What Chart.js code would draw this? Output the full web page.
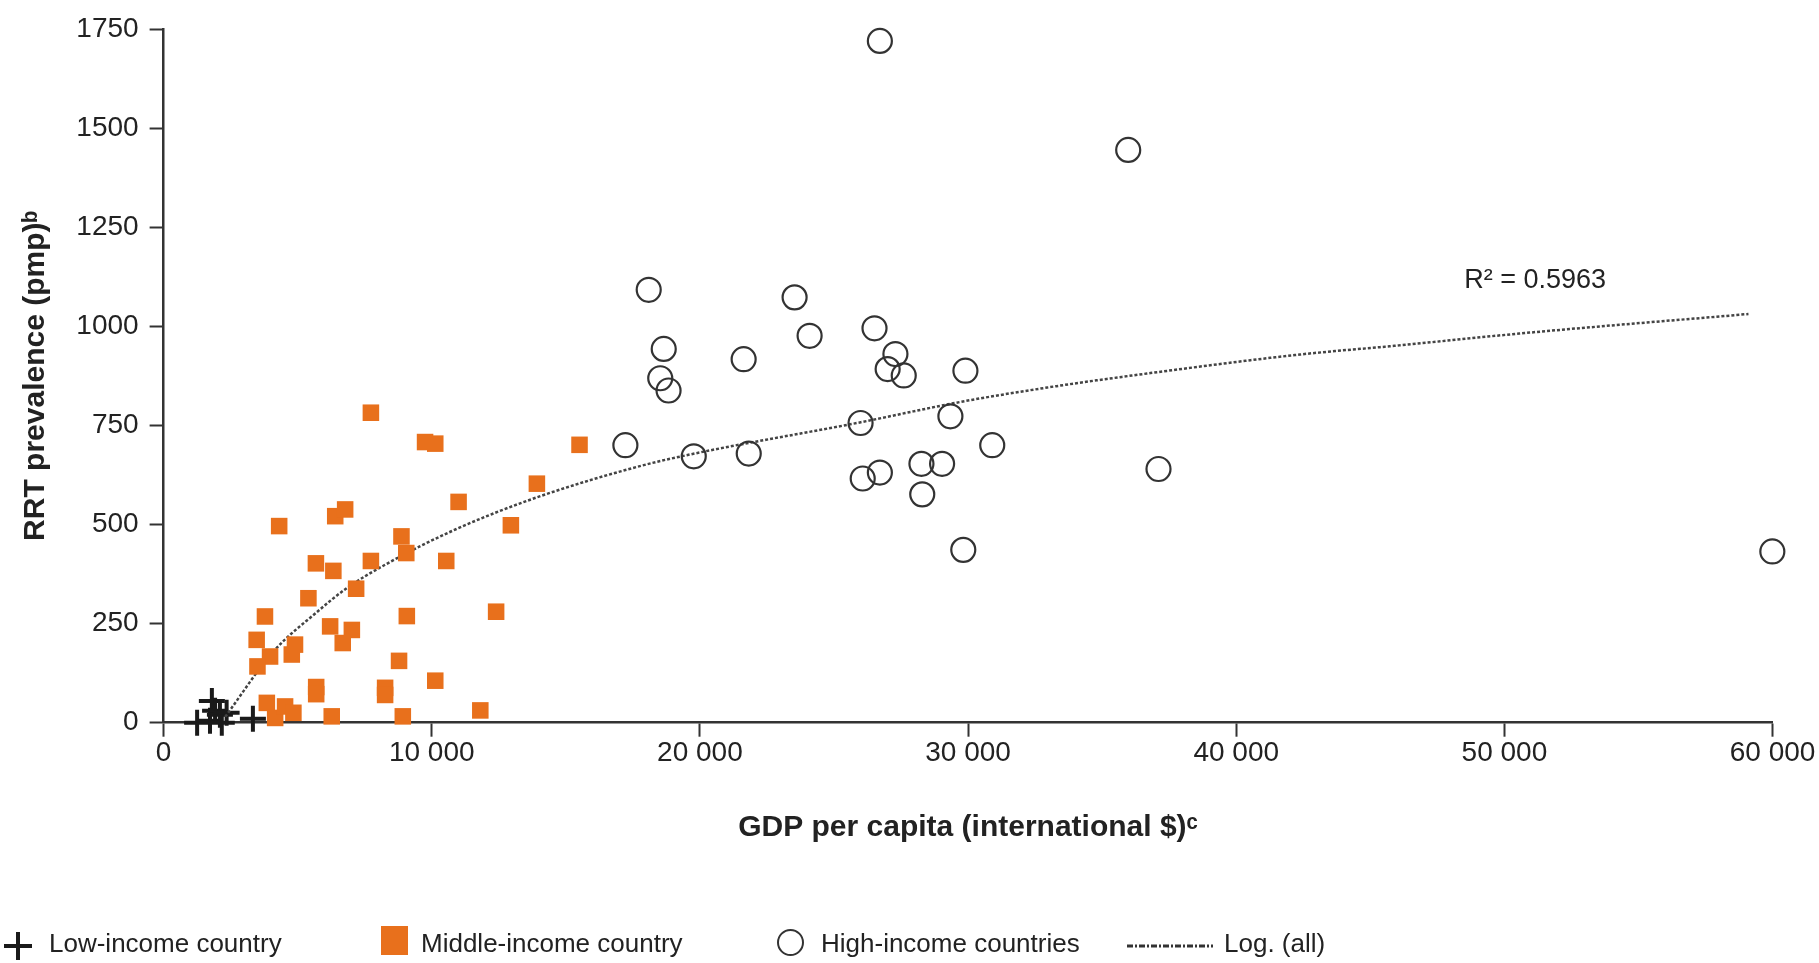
<!DOCTYPE html>
<html>
<head>
<meta charset="utf-8">
<script src="https://cdn.jsdelivr.net/npm/chart.js@4.4.1/dist/chart.umd.min.js"></script>
<style>
  body { margin: 0; background: #fff; }
  #wrap { position: relative; width: 1819px; height: 963px; }
  #legend { position: absolute; left: 0; top: 0; width: 1819px; height: 963px; pointer-events: none;
            font-family: "Liberation Sans", Arial, sans-serif; font-size: 26px; color: #222; }
  #legend .txt { position: absolute; top: 927px; line-height: 32px; white-space: nowrap; }
  #legend .sym { position: absolute; }
</style>
</head>
<body>
<div id="wrap">
  <canvas id="rrtChart" width="1819" height="963"></canvas>
  <div id="legend">
    <svg class="sym" style="left:3px;top:931px" width="30" height="30">
      <line x1="15" y1="1" x2="15" y2="29" stroke="#1a1a1a" stroke-width="4"/>
      <line x1="1" y1="15" x2="29" y2="15" stroke="#1a1a1a" stroke-width="4"/>
    </svg>
    <span class="txt" style="left:49px">Low-income country</span>
    <div class="sym" style="left:381px;top:926px;width:27px;height:29px;background:#e8701c"></div>
    <span class="txt" style="left:421px">Middle-income country</span>
    <div class="sym" style="left:777px;top:929px;width:27px;height:27px;border:2px solid #333;border-radius:50%;box-sizing:border-box"></div>
    <span class="txt" style="left:821px">High-income countries</span>
    <svg class="sym" style="left:1127px;top:941px" width="86" height="10">
      <line x1="0" y1="5" x2="86" y2="5" stroke="#333" stroke-width="3" stroke-dasharray="6,2,2,2"/>
    </svg>
    <span class="txt" style="left:1224px">Log. (all)</span>
  </div>
</div>
<script>
// GDP per capita (international $) and RRT prevalence (pmp)
const lowGdp = [1250, 1730, 1800, 1920, 2100, 2170, 2350, 3330];
const lowRrt = [0, 5, 55, 30, 20, 0, 25, 10];

const midGdp = [7730, 4310, 6400, 6770, 5680, 6330, 7730, 8870, 9050, 7180, 5400, 3780, 9070, 6210,
                7020, 6680, 3470, 3970, 4900, 4780, 3500, 8780, 5690, 5690, 8260, 8260, 3850, 4160,
                4530, 4840, 6270, 8920, 9750, 10130, 15510, 13920, 11000, 12950, 10540, 12400, 10130, 11810];
const midRrt = [782, 496, 521, 538, 402, 383, 408, 470, 428, 338, 314, 268, 269, 243,
                234, 201, 209, 167, 197, 172, 142, 156, 90, 72, 88, 70, 50, 12,
                41, 25, 16, 16, 708, 704, 701, 603, 557, 498, 408, 280, 106, 31];

const highGdp = [17220, 18090, 18650, 18520, 18830, 19770, 21630, 21820, 23530, 24090, 26510, 27290, 27000, 27600,
                 25990, 26070, 26710, 29900, 29340, 30900, 28260, 29030, 28290, 29820, 37100, 35970, 26710, 59990];
const highRrt = [700, 1092, 943, 869, 838, 672, 917, 679, 1073, 976, 995, 930, 892, 876,
                 756, 616, 631, 888, 773, 700, 653, 653, 576, 436, 640, 1445, 1720, 432];

// logarithmic trend line (all countries), as drawn in the figure
const trendGdp = [2300, 4100, 5700, 6800, 8300, 10900, 13900, 17800, 19800, 26000, 29700, 33000, 36800, 42400, 46100, 50600, 59100];
const trendRrt = [15, 180, 278, 338, 400, 488, 568, 648, 679, 758, 809, 846, 882, 929, 952, 982, 1031];

const xTicks = [0, 10000, 20000, 30000, 40000, 50000, 60000];
const r2Text = 'R² = 0.5963';

function toPoints(xs, ys) {
    return xs.map((x, i) => ({ x: x, y: ys[i] }));
}

const tickFont = { family: '"Liberation Sans", Arial, sans-serif', size: 28 };
const titleFont = { family: '"Liberation Sans", Arial, sans-serif', size: 30, weight: 'bold' };

const r2Label = {
    id: 'r2Label',
    afterDatasetsDraw(chart) {
        const { ctx, scales } = chart;
        ctx.save();
        ctx.font = '27px "Liberation Sans", Arial, sans-serif';
        ctx.fillStyle = '#222';
        ctx.textAlign = 'left';
        ctx.textBaseline = 'middle';
        ctx.fillText(r2Text, scales.x.getPixelForValue(48500), scales.y.getPixelForValue(1115));
        ctx.restore();
    }
};

const ctx = document.getElementById('rrtChart');

new Chart(ctx, {
    type: 'scatter',
    data: {
        datasets: [
            {
                label: 'Middle-income country',
                data: toPoints(midGdp, midRrt),
                pointStyle: 'rect',
                pointRadius: 11.7,
                backgroundColor: '#e8701c',
                borderWidth: 0,
                clip: false
            },
            {
                label: 'High-income countries',
                data: toPoints(highGdp, highRrt),
                pointStyle: 'circle',
                pointRadius: 12,
                backgroundColor: 'rgba(0,0,0,0)',
                borderColor: '#333',
                borderWidth: 2.2,
                clip: false
            },
            {
                label: 'Log. (all)',
                type: 'line',
                data: toPoints(trendGdp, trendRrt),
                borderColor: '#444',
                borderWidth: 2.5,
                borderDash: [3, 2],
                pointRadius: 0,
                fill: false,
                cubicInterpolationMode: 'monotone'
            },
            {
                label: 'Low-income country',
                data: toPoints(lowGdp, lowRrt),
                pointStyle: 'cross',
                pointRadius: 13,
                borderColor: '#1a1a1a',
                borderWidth: 4,
                clip: false
            }
        ]
    },
    options: {
        responsive: false,
        animation: false,
        devicePixelRatio: 1,
        layout: { padding: { left: 0, right: 46.4, top: 29, bottom: 0 } },
        plugins: {
            legend: { display: false },
            tooltip: { enabled: false }
        },
        scales: {
            x: {
                type: 'linear',
                min: 0,
                max: 60000,
                afterBuildTicks: (scale) => { scale.ticks = xTicks.map(v => ({ value: v })); },
                afterFit: (scale) => { scale.height = 240.3; },
                border: { display: true, color: '#333', width: 2.5 },
                grid: { drawOnChartArea: false, drawTicks: true, tickLength: 14, tickColor: '#333', tickWidth: 2 },
                ticks: {
                    padding: 0,
                    color: '#222',
                    font: tickFont,
                    maxRotation: 0,
                    callback: (v) => v === 0 ? '0' : String(v / 1000) + ' 000'
                },
                title: {
                    display: true,
                    text: 'GDP per capita (international $)ᶜ',
                    color: '#222',
                    font: titleFont,
                    padding: { top: 0, bottom: 117 }
                }
            },
            y: {
                min: 0,
                max: 1750,
                afterFit: (scale) => { scale.width = 163.6; },
                border: { display: true, color: '#333', width: 2.5 },
                grid: { drawOnChartArea: false, drawTicks: true, tickLength: 14, tickColor: '#333', tickWidth: 2 },
                ticks: {
                    stepSize: 250,
                    padding: 11,
                    color: '#222',
                    font: tickFont,
                    callback: (v) => String(v)
                },
                title: {
                    display: true,
                    text: 'RRT prevalence (pmp)ᵇ',
                    color: '#222',
                    font: titleFont,
                    padding: { top: 18, bottom: 0 }
                }
            }
        }
    },
    plugins: [r2Label]
});
</script>
</body>
</html>
